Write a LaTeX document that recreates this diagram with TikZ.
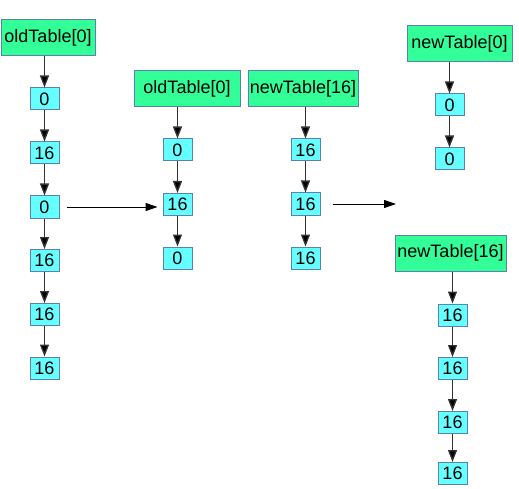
\documentclass[tikz,border=0pt]{standalone}
\usepackage{fontspec}
\setmainfont{Liberation Sans}
\usetikzlibrary{arrows.meta}
\definecolor{headg}{HTML}{33FF99}
\definecolor{cellc}{HTML}{66FFFF}
\definecolor{edge}{HTML}{5B80B4}
\definecolor{arrg}{HTML}{333333}
\tikzset{
  head/.style={draw=edge, line width=1pt, fill=headg, inner sep=0pt, minimum height=36pt, font=\fontsize{18}{18}\selectfont},
  cell/.style={draw=edge, line width=1pt, fill=cellc, inner sep=0pt, minimum width=29pt, minimum height=22pt, font=\fontsize{18}{18}\selectfont},
  varr/.style={draw=arrg, line width=1.3pt, -{Triangle[length=12pt,width=9pt,fill=black]}},
  harr/.style={draw=black, line width=1pt, -{Triangle[length=12pt,width=8pt]}}
}
\begin{document}
\begin{tikzpicture}[x=1pt,y=-1pt]
\useasboundingbox (0,0) rectangle (519,489);
% left column
\node[head, minimum width=94pt] (h1) at (48,38) {oldTable[0]};
\node[cell] (a1) at (44.5,99) {0};
\node[cell] (a2) at (44.5,153) {16};
\node[cell] (a3) at (44.5,207) {0};
\node[cell] (a4) at (44.5,260.5) {16};
\node[cell] (a5) at (44.5,314.5) {16};
\node[cell] (a6) at (44.5,368) {16};
\draw[varr] (h1.south -| a1.north) -- (a1.north);
\draw[varr] (a1) -- (a2);
\draw[varr] (a2) -- (a3);
\draw[varr] (a3) -- (a4);
\draw[varr] (a4) -- (a5);
\draw[varr] (a5) -- (a6);
% middle oldTable
\node[head, minimum width=106pt] (h2) at (187,89) {oldTable[0]};
\node[cell] (b1) at (177.5,150) {0};
\node[cell] (b2) at (177.5,204.5) {16};
\node[cell] (b3) at (177.5,258) {0};
\draw[varr] (h2.south -| b1.north) -- (b1.north);
\draw[varr] (b1) -- (b2);
\draw[varr] (b2) -- (b3);
% middle newTable[16]
\node[head, minimum width=110pt] (h3) at (303,89) {newTable[16]};
\node[cell] (c1) at (305.5,150) {16};
\node[cell] (c2) at (305.5,204) {16};
\node[cell] (c3) at (305.5,258) {16};
\draw[varr] (h3.south -| c1.north) -- (c1.north);
\draw[varr] (c1) -- (c2);
\draw[varr] (c2) -- (c3);
% right newTable[0]
\node[head, minimum width=105pt] (h4) at (459.5,44) {newTable[0]};
\node[cell] (d1) at (449.5,105) {0};
\node[cell] (d2) at (449.5,159) {0};
\draw[varr] (h4.south -| d1.north) -- (d1.north);
\draw[varr] (d1) -- (d2);
% right newTable[16]
\node[head, minimum width=111pt] (h5) at (450.5,253) {newTable[16]};
\node[cell] (e1) at (452.5,315) {16};
\node[cell] (e2) at (452.5,368.5) {16};
\node[cell] (e3) at (452.5,422.5) {16};
\node[cell] (e4) at (452.5,473.5) {16};
\draw[varr] (h5.south -| e1.north) -- (e1.north);
\draw[varr] (e1) -- (e2);
\draw[varr] (e2) -- (e3);
\draw[varr] (e3) -- (e4);
% horizontal arrows
\draw[harr, shorten <=7pt, shorten >=5pt] (a3.east) -- (a3.east -| b2.west);
\coordinate (t2) at (396,204);
\draw[harr, shorten <=12pt] (c2.east) -- (t2);
\end{tikzpicture}
\end{document}
